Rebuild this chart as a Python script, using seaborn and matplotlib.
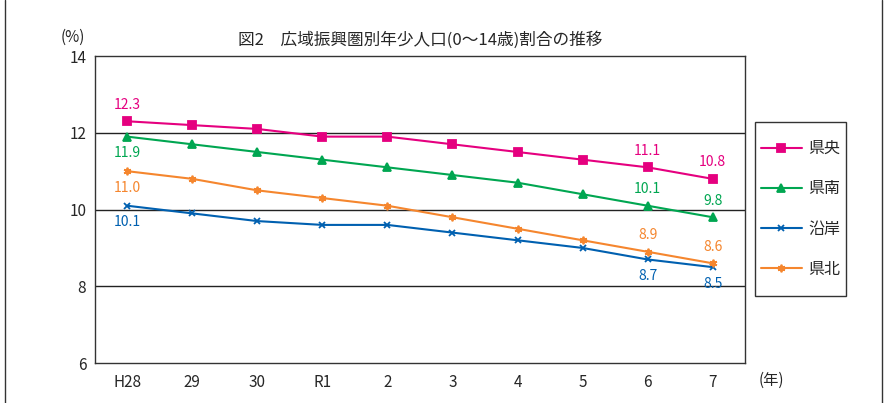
import pandas as pd
import matplotlib
matplotlib.use("Agg")
import matplotlib.pyplot as plt
import seaborn as sns
from matplotlib.lines import Line2D
from matplotlib.patches import Rectangle

years = ["H28", "29", "30", "R1", "2", "3", "4", "5", "6", "7"]
kenou = [12.3, 12.2, 12.1, 11.9, 11.9, 11.7, 11.5, 11.3, 11.1, 10.8]
kennan = [11.9, 11.7, 11.5, 11.3, 11.1, 10.9, 10.7, 10.4, 10.1, 9.8]
engan = [10.1, 9.9, 9.7, 9.6, 9.6, 9.4, 9.2, 9.0, 8.7, 8.5]
kenpoku = [11.0, 10.8, 10.5, 10.3, 10.1, 9.8, 9.5, 9.2, 8.9, 8.6]
regions = ["県央", "県南", "沿岸", "県北"]

colors = {"県央": "#E5007F", "県南": "#00A651", "沿岸": "#0060B0", "県北": "#F5862E"}
markers = {"県央": "s", "県南": "^", "沿岸": "x", "県北": (6, 2, 0)}
msizes = {"県央": 5.5, "県南": 5.5, "沿岸": 4.5, "県北": 5.5}

df = pd.DataFrame({
    "year": years * 4,
    "x": list(range(len(years))) * 4,
    "region": sum([[r] * len(years) for r in regions], []),
    "value": kenou + kennan + engan + kenpoku,
})

sns.set_style("white")
plt.rcParams["font.family"] = ["Noto Sans CJK JP", "DejaVu Sans"]

fig = plt.figure(figsize=(8.85, 4.03), dpi=100)
ax = fig.add_axes([0.107, 0.099, 0.735, 0.762])

for r in regions:
    sub = df[df["region"] == r]
    sns.lineplot(data=sub, x="x", y="value", ax=ax, color=colors[r], marker=markers[r],
                 markersize=msizes[r], markeredgewidth=1.3, markeredgecolor=colors[r],
                 linewidth=1.5, legend=False)

ax.set_xlim(-0.5, len(years) - 0.5)
ax.set_ylim(6, 14)
ax.set_yticks([6, 8, 10, 12, 14])
ax.set_xticks(range(len(years)))
ax.set_xticklabels(years)
ax.set_xticks([i + 0.5 for i in range(len(years) - 1)], minor=True)
ax.tick_params(axis="x", which="major", length=0, pad=8, labelsize=11)
ax.tick_params(axis="x", which="minor", direction="in", length=5, color="#333333")
ax.tick_params(axis="y", length=0, pad=6, labelsize=11)
for y in [8, 10, 12]:
    ax.axhline(y, color="#222222", linewidth=1.0, zorder=0)
for s in ax.spines.values():
    s.set_color("#333333")
    s.set_linewidth(1.0)
ax.set_xlabel("")
ax.set_ylabel("")

# data labels
label_pos = {
    "県央": {0: 12, 8: 12, 9: 12},
    "県南": {0: -12, 8: 12, 9: 12},
    "沿岸": {0: -12, 8: -12, 9: -12},
    "県北": {0: -12, 8: 12, 9: 12},
}
vals = {"県央": kenou, "県南": kennan, "沿岸": engan, "県北": kenpoku}
for r in regions:
    for i, off in label_pos[r].items():
        ax.annotate(f"{vals[r][i]:.1f}", (i, vals[r][i]), xytext=(0, off),
                    textcoords="offset points", ha="center", va="center",
                    color=colors[r], fontsize=10)

fig.text(0.475, 0.9, "図2　広域振興圏別年少人口(0～14歳)割合の推移", ha="center", va="center",
         fontsize=12)
fig.text(0.082, 0.908, "(%)", ha="center", va="center", fontsize=11)
fig.text(0.872, 0.057, "(年)", ha="center", va="center", fontsize=11)

# legend box
fig.add_artist(Rectangle((0.853, 0.2655), 0.103, 0.432, transform=fig.transFigure,
                         facecolor="white", edgecolor="#333333", linewidth=1.0))
handles = [Line2D([0], [0], color=colors[r], marker=markers[r], markersize=msizes[r],
                  markeredgewidth=1.3, linewidth=1.5) for r in regions]
leg = fig.legend(handles, regions, loc="center", bbox_to_anchor=(0.9045, 0.4815),
                 frameon=False, labelspacing=1.45, handlelength=2.6, borderpad=0,
                 fontsize=11.5, handletextpad=0.4)

fig.add_artist(Line2D([0.006, 0.006], [0, 1], color="#333333", linewidth=1.0))
fig.add_artist(Line2D([0.997, 0.997], [0, 1], color="#333333", linewidth=1.0))

fig.savefig("out.png", dpi=100)
